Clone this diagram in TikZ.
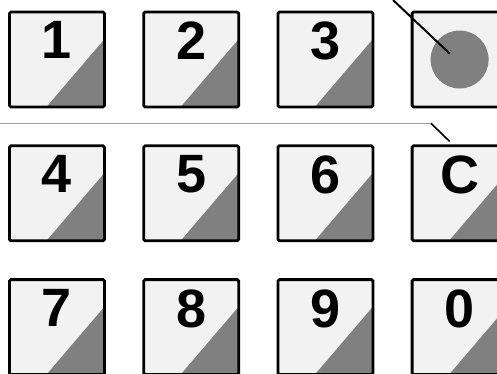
\documentclass[tikz,border=0pt]{standalone}
\usepackage{fontspec}
\usepackage{tikz}
\usepackage{xcolor}
\usetikzlibrary{positioning, calc}
\newfontfamily\keyfont{Liberation Sans}
\definecolor{padFace}{RGB}{242,242,242}
\definecolor{padShade}{RGB}{128,128,128}
\definecolor{padRule}{RGB}{160,160,160}

\begin{document}
\begin{tikzpicture}[
      key/.style={draw=black, line width=2.8pt, fill=padFace, rounded corners=1.5pt, minimum size=95pt,
      inner sep=0pt,
      path picture={\fill[padShade] ($(path picture bounding box.center)+(-11pt,-48pt)$)
        -- ($(path picture bounding box.center)+(48pt,-48pt)$)
        -- ($(path picture bounding box.center)+(48pt,21pt)$) -- cycle;}},
      blankkey/.style={draw=black, line width=2.8pt, fill=padFace, rounded corners=1.5pt, minimum size=95pt},
      digit/.style={font=\keyfont\bfseries\fontsize{54}{54}\selectfont, inner sep=0pt},
      lead/.style={line width=2pt, draw=black},
      rule/.style={line width=1.4pt, draw=padRule}
    ]
    \useasboundingbox (0,0) rectangle (497pt,-373pt);

    % first row
    \node[key] (k1) at (57pt,-59.5pt) {};
    \node[key, right=36.4pt of k1] (k2) {};
    \node[key, right=36.4pt of k2] (k3) {};
    \node[blankkey, right=36.4pt of k3] (k4) {};
    % second row
    \node[key, below=36pt of k1] (k5) {};
    \node[key, right=36.4pt of k5] (k6) {};
    \node[key, right=36.4pt of k6] (k7) {};
    \node[key, right=36.4pt of k7] (kC) {};
    % third row
    \node[key, below=36pt of k5] (k8) {};
    \node[key, right=36.4pt of k8] (k9) {};
    \node[key, right=36.4pt of k9] (k10) {};
    \node[key, right=36.4pt of k10] (k11) {};

    \node[digit, below=11pt of k1.north] (d1) {1};
    \node[digit, below=11pt of k2.north] (d2) {2};
    \node[digit, below=11pt of k3.north] (d3) {3};
    \node[digit, below=11pt of k5.north] (d4) {4};
    \node[digit, below=11pt of k6.north] (d5) {5};
    \node[digit, below=11pt of k7.north] (d6) {6};
    \node[digit, below=11pt of kC.north] (dC) {C};
    \node[digit, below=11pt of k8.north] (d7) {7};
    \node[digit, below=11pt of k9.north] (d8) {8};
    \node[digit, below=11pt of k10.north] (d9) {9};
    \node[digit, below=11pt of k11.north] (d0) {0};

    % indicator dot
    \node[circle, fill=padShade, minimum size=58pt, inner sep=0pt] (dot) at (k4.center) {};

    % leader lines
    \coordinate (topEnd) at (393pt,0pt);
    \coordinate (ruleStart) at (0pt,-123.3pt);
    \coordinate (ruleBend) at (431pt,-123.3pt);
    \draw[lead] (topEnd) -- ([shift={(-10pt,6pt)}]dot.center);
    \draw[rule] (ruleStart) -- (ruleBend);
    \draw[lead, line width=1.6pt] (ruleBend) -- ([shift={(-10pt,3pt)}]kC.north);
  \end{tikzpicture}
\end{document}
